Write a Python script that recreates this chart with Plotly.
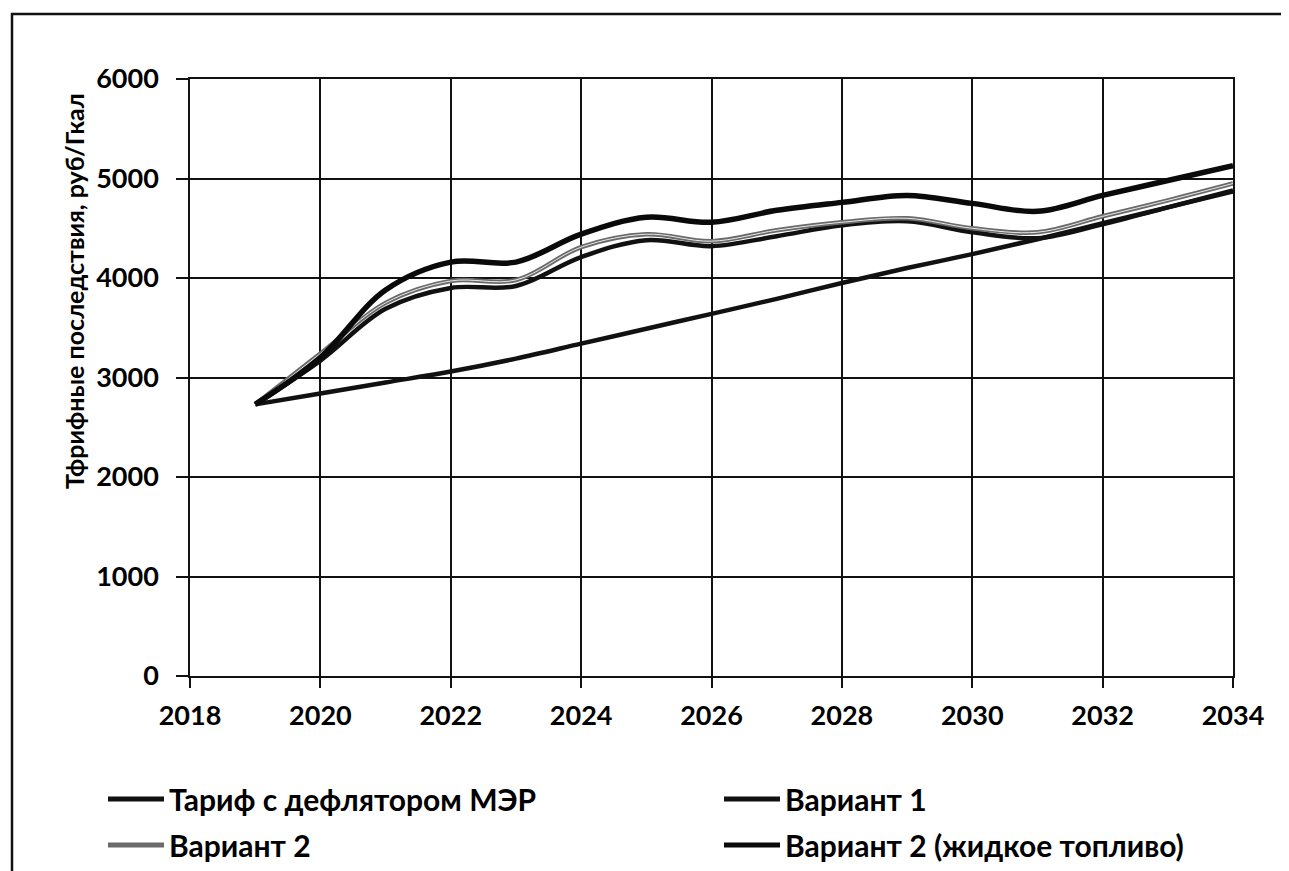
import plotly.graph_objects as go

years = list(range(2019, 2035))
tariff_mer = [2730, 2840, 2950, 3060, 3190, 3340, 3490, 3640, 3790, 3950, 4100, 4240, 4390, 4550, 4710, 4870]
variant1 = [2730, 3170, 3690, 3900, 3920, 4210, 4380, 4320, 4420, 4530, 4570, 4460, 4400, 4540, 4710, 4880]
variant2 = [2730, 3240, 3750, 3970, 3980, 4310, 4440, 4370, 4480, 4560, 4600, 4500, 4460, 4620, 4780, 4950]
variant2_liquid = [2730, 3200, 3880, 4160, 4160, 4440, 4610, 4560, 4680, 4760, 4830, 4750, 4670, 4830, 4980, 5130]

names = ["Тариф с дефлятором МЭР", "Вариант 1", "Вариант 2", "Вариант 2 (жидкое топливо)"]
y_title = "Тфрифные последствия, руб/Гкал"
x_ticks = list(range(2018, 2035, 2))
y_ticks = list(range(0, 6001, 1000))

FONT = "Lato, 'Noto Sans', 'Open Sans', sans-serif"
OFF = 8  # the page body adds an 8px margin; work in screen coordinates
W, H = 1289 - OFF, 871 - OFF
L, R, T, B = 190 - OFF, 56, 79 - OFF, 195
PW, PH = W - L - R, H - T - B


def px_x(sx):
    return (sx - OFF - L) / PW


def px_y(sy):
    return (H - B - (sy - OFF)) / PH


fig = go.Figure()
fig.add_trace(go.Scatter(x=years, y=tariff_mer, name=names[0], mode="lines", legend="legend",
                         legendgroup="a",
                         line=dict(color="#111111", width=4.5, shape="spline")))
fig.add_trace(go.Scatter(x=years, y=variant1, name=names[1], mode="lines", legend="legend2",
                         legendgroup="b",
                         line=dict(color="#111111", width=4.5, shape="spline")))
fig.add_trace(go.Scatter(x=years, y=variant2, name=names[2], mode="lines", legend="legend",
                         legendgroup="c",
                         line=dict(color="#6a6a6a", width=4.5, shape="spline")))
fig.add_trace(go.Scatter(x=years, y=variant2, name=names[2], mode="lines", showlegend=False,
                         legendgroup="c",
                         line=dict(color="#e8e8e8", width=1, shape="spline"), hoverinfo="skip"))
fig.add_trace(go.Scatter(x=years, y=variant2_liquid, name=names[3], mode="lines", legend="legend2",
                         legendgroup="d",
                         line=dict(color="#0a0a0a", width=5.5, shape="spline")))

leg_font = dict(family=FONT, size=30, color="black", weight="bold")
common_leg = dict(orientation="v", xanchor="left", yanchor="top", itemwidth=56,
                  font=leg_font, tracegroupgap=4, bgcolor="rgba(0,0,0,0)",
                  itemsizing="constant", traceorder="grouped")

fig.update_layout(
    width=W, height=H,
    margin=dict(l=L, r=R, t=T, b=B, autoexpand=False),
    paper_bgcolor="white", plot_bgcolor="white",
    font=dict(family=FONT, color="black", size=22),
    showlegend=True,
    legend=dict(x=px_x(103), y=px_y(773), **common_leg),
    legend2=dict(x=px_x(719), y=px_y(773), **common_leg),
    xaxis=dict(range=[2018, 2034], tickvals=x_ticks, ticktext=[str(v) for v in x_ticks],
               showgrid=True, gridcolor="#111111", gridwidth=1.6,
               showline=True, linecolor="#111111", linewidth=1.6, mirror=True,
               ticks="outside", ticklen=10, tickwidth=1.6, tickcolor="#111111",
               ticklabelstandoff=5,
               tickfont=dict(family=FONT, size=27, color="black", weight="bold"),
               zeroline=False),
    yaxis=dict(range=[0, 6000], tickvals=y_ticks, ticktext=[str(v) for v in y_ticks],
               showgrid=True, gridcolor="#111111", gridwidth=1.6,
               showline=True, linecolor="#111111", linewidth=1.6, mirror=True,
               ticks="outside", ticklen=12, tickwidth=1.6, tickcolor="#111111",
               ticklabelstandoff=12,
               tickfont=dict(family=FONT, size=27, color="black", weight="bold"),
               zeroline=False),
)

# y-axis title (placed like in the original: slightly above the axis centre)
fig.add_annotation(text=y_title, textangle=-90, showarrow=False,
                   xref="paper", yref="paper", x=px_x(74), y=px_y(291),
                   xanchor="center", yanchor="middle",
                   font=dict(family=FONT, size=25, color="black", weight="bold"))

# outer chart border (as in the scanned original)
fig.add_shape(type="rect", xref="paper", yref="paper",
              x0=px_x(12), x1=px_x(1300),
              y0=px_y(890), y1=px_y(14),
              line=dict(color="#111111", width=2.5), fillcolor="rgba(0,0,0,0)", layer="below")

fig.write_html("out.html")
